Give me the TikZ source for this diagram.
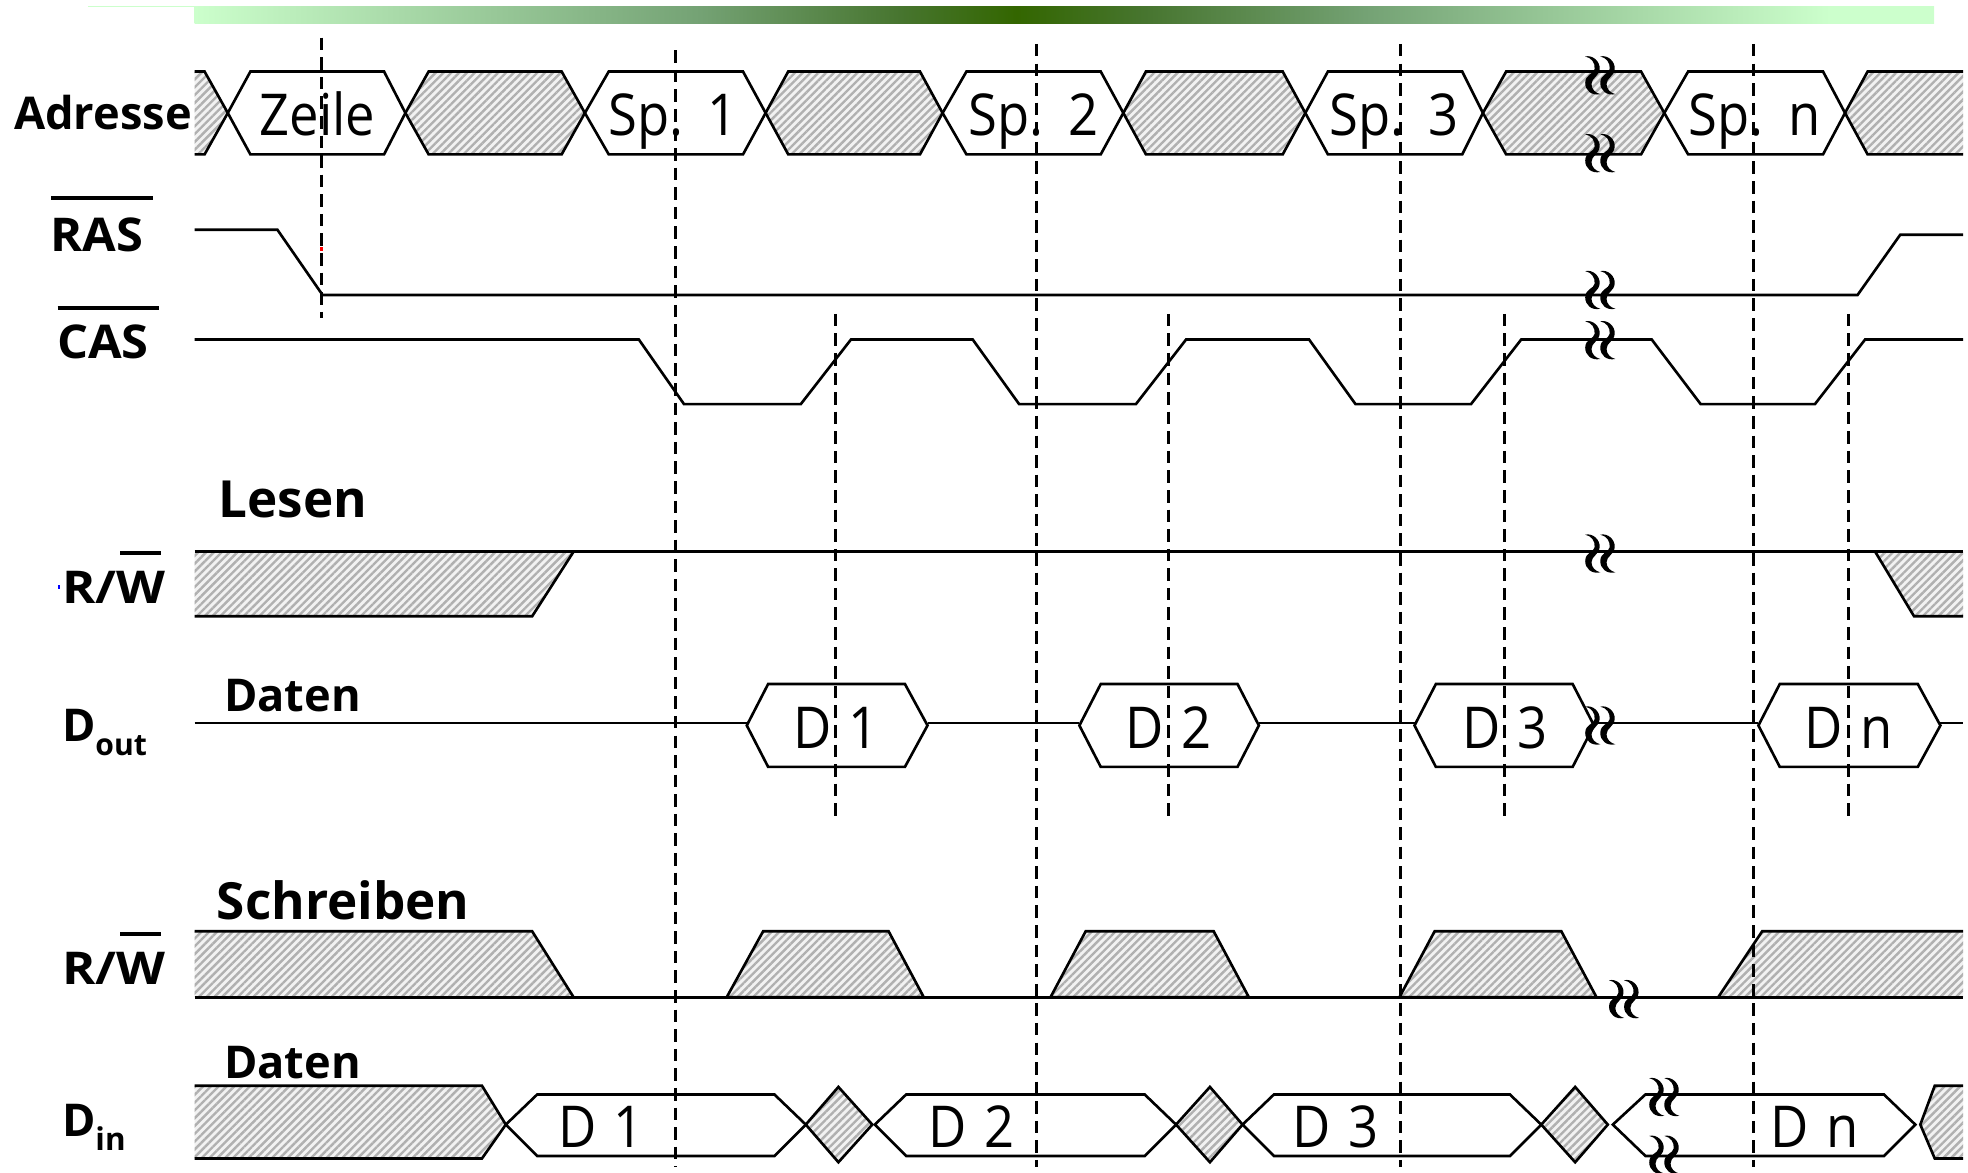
\documentclass[tikz,border=0pt]{standalone}
\usepackage{fontspec}
\setmainfont{Open Sans}
\newfontfamily\valfont[FakeStretch=0.91]{Open Sans}
\usetikzlibrary{patterns.meta}
\definecolor{barlight}{HTML}{CCFFCC}
\definecolor{barmidA}{HTML}{74A274}
\definecolor{barmidB}{HTML}{47752F}
\definecolor{bardark}{HTML}{336600}
\definecolor{hatchgray}{HTML}{B0B0B0}
\definecolor{hatchbg}{HTML}{F2F2F2}
\pgfdeclarehorizontalshading{barshade}{100bp}{color(0bp)=(barlight); color(25bp)=(barlight); color(39.54bp)=(barmidA); color(45.27bp)=(barmidB); color(48.63bp)=(bardark); color(52.31bp)=(barmidB); color(58.65bp)=(barmidA); color(72bp)=(barlight); color(100bp)=(barlight)}
\tikzset{
  sig/.style={draw=black,line width=1.05pt,line join=miter},
  sigthick/.style={draw=black,line width=1.3pt},
  hatchfill/.style={pattern={Lines[angle=45,distance=2.2pt,line width=0.95pt]},pattern color=hatchgray,preaction={fill=hatchbg}},
  hatchbox/.style={sig,hatchfill},
  dashv/.style={draw=black,line width=1.15pt,dash pattern=on 5pt off 2.8pt},
  lab/.style={font=\bfseries\fontsize{18}{18}\selectfont,inner sep=0pt,anchor=base},
  head/.style={font=\bfseries\fontsize{20.4}{20.4}\selectfont,inner sep=0pt,anchor=base},
  headb/.style={font=\bfseries\fontsize{18}{18}\selectfont,inner sep=0pt,anchor=base},
  val/.style={font=\valfont\fontsize{23}{23}\selectfont,inner sep=0pt,anchor=base},
  barline/.style={draw=black,line width=1.6pt},
  breakmark/.pic={
    \foreach \d in {0,12}{
      \fill[black,xshift=\d*0.5pt] (-11,-15) .. controls (-5,-16.5) and (1,-11) .. (0.5,-5)
        .. controls (0,1) and (-6,2) .. (-6,7)
        .. controls (-6,11) and (-3,14) .. (1,15)
        .. controls (-6,16.5) and (-11,12) .. (-11,6)
        .. controls (-11,-1) and (-4,-1) .. (-3.5,-5)
        .. controls (-3,-10) and (-6,-14) .. cycle;
    }
  }
}
\begin{document}
\begin{tikzpicture}[x=0.5pt,y=-0.5pt]
\useasboundingbox (0,0) rectangle (1568,934);
% top bar
\draw[barlight,line width=0.5pt] (70,5) -- (155,5);
\shade[shading=barshade,draw=none] (155,5) rectangle (1541,19);

% Adresse: hatched
\path[hatchfill] (155,57) -- (163,57) -- (181.5,90) -- (163,123) -- (155,123) -- cycle;
\draw[sig] (155,57) -- (163,57) -- (181.5,90) -- (163,123) -- (155,123);
\foreach \a/\b/\c/\d in {323/341.5/447.5/466,610/628/733/751,895/913/1022/1040,1181.5/1200/1307.5/1326}{
  \draw[hatchbox] (\a,90) -- (\b,57) -- (\c,57) -- (\d,90) -- (\c,123) -- (\b,123) -- cycle;
}
\path[hatchfill] (1470,90) -- (1488,57) -- (1564,57) -- (1564,123) -- (1488,123) -- cycle;
\draw[sig] (1564,57) -- (1488,57) -- (1470,90) -- (1488,123) -- (1564,123);
% Adresse: values
\foreach \a/\b/\c/\d in {181.5/199.5/306/323,466/485/592/610,751/770/877/895,1040/1058/1165/1181.5,1326/1345/1452.5/1470}{
  \draw[sig] (\a,90) -- (\b,57) -- (\c,57) -- (\d,90) -- (\c,123) -- (\b,123) -- cycle;
}
\node[val] (vz) at (253,108) {Zeile};
\node[val] (v1) at (536.5,108) {Sp.\hspace{0.42em}1};
\node[val] (v2) at (823.5,108) {Sp.\hspace{0.42em}2};
\node[val] (v3) at (1110.5,108) {Sp.\hspace{0.42em}3};
\node[val] (vn) at (1398,108) {Sp.\hspace{0.42em}n};

% RAS, CAS
\draw[sig] (155,183) -- (221,183) -- (257,235) -- (1480,235) -- (1514,187) -- (1564,187);
\draw[sig] (155,270.5) -- (509,270.5) -- (545,322) -- (638,322) -- (678,270.5) -- (775,270.5) -- (812,322) -- (905,322) -- (945,270.5) -- (1043,270.5) -- (1080,322) -- (1172,322) -- (1212,270.5) -- (1316,270.5) -- (1355,322) -- (1446,322) -- (1486,270.5) -- (1564,270.5);
\foreach \a/\b in {456/468,721/775,989/1043,1285/1316}{ \draw[sigthick] (\a,270.5) -- (\b,270.5); }

% R/W read
\path[hatchfill] (155,439.5) -- (457,439.5) -- (424,491) -- (155,491) -- cycle;
\draw[sig] (155,491) -- (424,491) -- (457,439.5);
\path[hatchfill] (1494,439.5) -- (1564,439.5) -- (1564,491) -- (1525,491) -- cycle;
\draw[sig] (1564,491) -- (1525,491) -- (1494,439.5);
\draw[sig] (155,439.5) -- (1564,439.5);

% Dout
\draw[sig] (155,576) -- (595,576);
\draw[sig] (739,576) -- (860,576);
\draw[sig] (1003,576) -- (1127,576);
\draw[sig] (1270,576) -- (1401,576);
\draw[sig] (1546,576) -- (1564,576);
\foreach \a/\b/\c/\d in {595/612/721/739,860/877/986/1003,1127/1144/1253/1270,1401/1418/1528/1546}{
  \draw[sig] (\a,578) -- (\b,545) -- (\c,545) -- (\d,578) -- (\c,611) -- (\b,611) -- cycle;
}
\node[val] (o1) at (666,596) {D\hspace{0.3em}1};
\node[val] (o2) at (931,596) {D\hspace{0.3em}2};
\node[val] (o3) at (1199,596) {D\hspace{0.3em}3};
\node[val] (on) at (1473,596) {D\hspace{0.3em}n};

% R/W write
\path[hatchfill] (155,742) -- (424,742) -- (457,794.5) -- (155,794.5) -- cycle;
\draw[sig] (155,742) -- (424,742) -- (457,794.5);
\foreach \a/\b/\c/\d in {579/608/708/736,837/865/967/995,1115/1143/1244/1272}{
  \draw[hatchbox] (\a,794.5) -- (\b,742) -- (\c,742) -- (\d,794.5) -- cycle;
}
\path[hatchfill] (1369,794.5) -- (1404,742) -- (1564,742) -- (1564,794.5) -- cycle;
\draw[sig] (1369,794.5) -- (1404,742) -- (1564,742);
\draw[sig] (155,794.5) -- (1564,794.5);

% Din
\path[hatchfill] (155,865) -- (384,865) -- (403,896) -- (384,923) -- (155,923) -- cycle;
\draw[sig] (155,865) -- (384,865) -- (403,896) -- (384,923) -- (155,923);
\foreach \a/\b/\c in {642/668/695,937/964/990,1228/1255/1281}{
  \draw[hatchbox] (\a,896) -- (\b,866) -- (\c,896) -- (\b,926) -- cycle;
}
\foreach \a/\b/\c/\d in {403/428/617/642,697/722/912/937,990/1015/1203/1228,1285/1311/1501/1526}{
  \draw[sig] (\a,896) -- (\b,872) -- (\c,872) -- (\d,896) -- (\c,921) -- (\b,921) -- cycle;
}
\path[hatchfill] (1530,896) -- (1541.5,865) -- (1564,865) -- (1564,923) -- (1541.5,923) -- cycle;
\draw[sig] (1564,865) -- (1541.5,865) -- (1530,896) -- (1541.5,923) -- (1564,923);
\node[val] (i1) at (479,914.5) {D\hspace{0.3em}1};
\node[val] (i2) at (774,914.5) {D\hspace{0.3em}2};
\node[val] (i3) at (1064,914.5) {D\hspace{0.3em}3};
\node[val] (in) at (1446,914.5) {D\hspace{0.3em}n};

% dashed lines
\draw[dashv] (256,30) -- (256,253);
\draw[dashv] (538,40) -- (538,930);
\draw[dashv] (826,35) -- (826,930);
\draw[dashv] (1116,35) -- (1116,930);
\draw[dashv] (1397,35) -- (1397,930);
\foreach \x in {666,931,1199,1473}{ \draw[dashv] (\x,250) -- (\x,654); }
\fill[red] (255,196.5) rectangle (257,200);
\fill[blue] (46.5,466) rectangle (47.5,469);

% break marks
\foreach \x/\y in {1274/60,1274/122,1274/231,1274/271,1274/441,1274/578,1293/796,1325/874}{
  \pic at (\x,\y) {breakmark};
}
\begin{scope}
\clip (0,0) rectangle (1568,934);
\pic at (1325,920) {breakmark};
\end{scope}

% labels
\node[lab] (adr) at (82,103) {Adresse};
\node[lab] (ras) at (77,200) {\scalebox{1.08}[1.03]{RAS}};
\node[lab] (cas) at (82,286) {\scalebox{1.08}[1.03]{CAS}};
\node[head] (les) at (233.5,412) {Lesen};
\node[lab] (rw1) at (91,481) {\scalebox{1.12}[1]{R/W}};
\node[headb] (dat1) at (233,566.5) {Daten};
\node[lab,anchor=base west] (dout) at (49,591) {D\raisebox{-0.3em}{\fontsize{12}{12}\selectfont out}};
\node[head] (sch) at (273.5,732.5) {Schreiben};
\node[lab] (rw2) at (91,784.5) {\scalebox{1.12}[1]{R/W}};
\node[headb] (dat2) at (233,859) {Daten};
\node[lab,anchor=base west] (din) at (49,905.5) {D\raisebox{-0.3em}{\fontsize{12.5}{12.5}\selectfont in}};
\draw[barline] (41,158) -- (122,158);
\draw[barline] (46,245) -- (127,245);
\draw[barline] (96,440.5) -- (128,440.5);
\draw[barline] (96,744) -- (128,744);
\end{tikzpicture}
\end{document}
